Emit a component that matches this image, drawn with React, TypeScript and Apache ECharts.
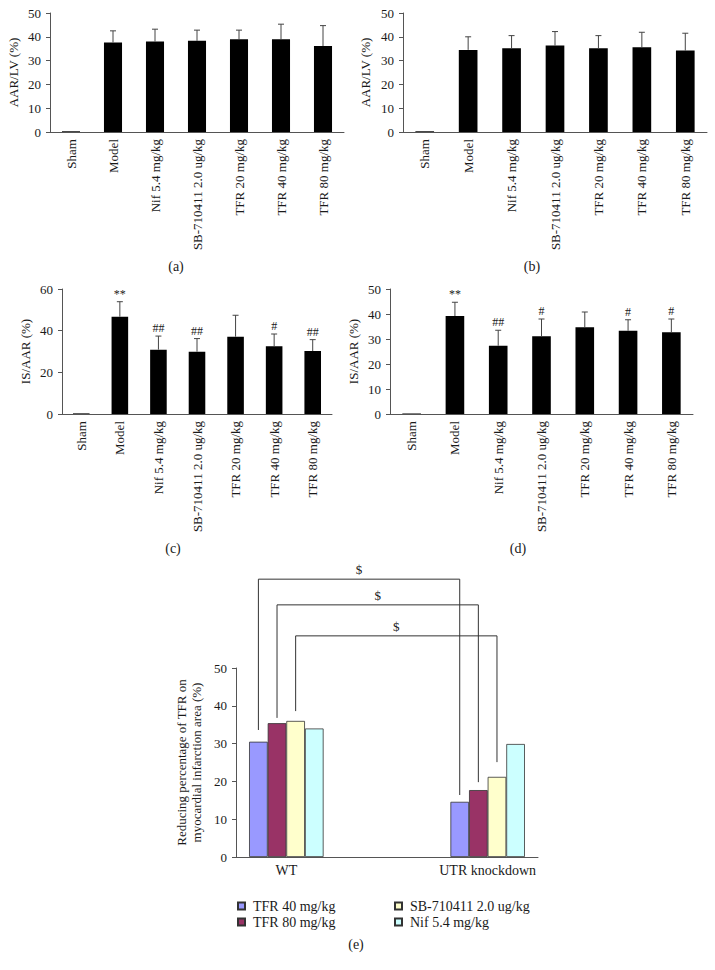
import React, { useEffect, useRef } from "react";
import * as echarts from "echarts";

const FONT = '"Liberation Serif", "DejaVu Serif", serif';
const TXT = "#1a1a1a";
const AX = "#555";

const groups = [
  "Sham",
  "Model",
  "Nif 5.4 mg/kg",
  "SB-710411 2.0 ug/kg",
  "TFR 20 mg/kg",
  "TFR 40 mg/kg",
  "TFR 80 mg/kg",
];

// Panel (a) AAR/LV
const aMean = [0.3, 37.6, 38.0, 38.3, 39.0, 39.0, 36.1];
const aErrTop = [0.3, 42.5, 43.2, 42.8, 42.8, 45.3, 44.7];
// Panel (b) AAR/LV
const bMean = [0.3, 34.5, 35.2, 36.3, 35.2, 35.6, 34.2];
const bErrTop = [0.3, 40.0, 40.5, 42.2, 40.5, 41.9, 41.5];
// Panel (c) IS/AAR
const cMean = [0.3, 46.7, 30.9, 29.9, 37.1, 32.5, 30.2];
const cErrTop = [0.3, 53.9, 37.4, 36.2, 47.4, 38.4, 35.7];
const cSig = ["", "**", "##", "##", "", "#", "##"];
// Panel (d) IS/AAR
const dMean = [0.2, 39.2, 27.3, 31.1, 34.7, 33.3, 32.7];
const dErrTop = [0.2, 44.7, 33.5, 38.0, 40.8, 37.7, 38.0];
const dSig = ["", "**", "##", "#", "", "#", "#"];

// Panel (e)
const eCats = ["WT", "", "UTR knockdown"];
const eSeriesNames = ["TFR 40 mg/kg", "TFR 80 mg/kg", "SB-710411 2.0 ug/kg", "Nif 5.4 mg/kg"];
const eTFR40 = [30.5, null, 14.6];
const eTFR80 = [35.4, null, 17.7];
const eSB = [36.0, null, 21.2];
const eNif = [34.0, null, 29.9];
const eColors = ["#9999FF", "#993366", "#FFFFCC", "#CCFFFF"];
// brackets: [leftCat, leftBar, rightCat, rightBar, topValue, leftBottom, rightBottom]
const eBrackets = [
  [0, 0, 2, 0, 73.5, 33.6, 16.4],
  [0, 1, 2, 1, 66.7, 36.8, 19.8],
  [0, 2, 2, 2, 58.5, 38.6, 25.1],
];
const eBracketLabel = ["$", "$", "$"];
const E_GROUP = 0.74;

const panelGrids = [
  { left: 50, top: 13, width: 294, height: 119 },
  { left: 403, top: 13, width: 304, height: 119 },
  { left: 62, top: 289, width: 270, height: 125 },
  { left: 390, top: 289, width: 303, height: 125 },
  { left: 236, top: 668, width: 302, height: 189 },
];

function errSeries(idx: number, means: number[], tops: number[], sig: string[] | null) {
  return {
    type: "custom",
    xAxisIndex: idx,
    yAxisIndex: idx,
    clip: false,
    z: 5,
    data: means.map((m, i) => [i, m, tops[i]]),
    renderItem: (params: any, api: any) => {
      const i = params.dataIndex;
      const m = api.value(1);
      const t = api.value(2);
      const children: any[] = [];
      const p0 = api.coord([i, m]);
      const p1 = api.coord([i, t]);
      if (t > m) {
        children.push({
          type: "line",
          shape: { x1: p0[0], y1: p0[1], x2: p1[0], y2: p1[1] },
          style: { stroke: "#444", lineWidth: 1 },
        });
        children.push({
          type: "line",
          shape: { x1: p1[0] - 3, y1: p1[1], x2: p1[0] + 3, y2: p1[1] },
          style: { stroke: "#444", lineWidth: 1 },
        });
      }
      if (sig && sig[i]) {
        children.push({
          type: "text",
          x: p1[0],
          y: p1[1] - 2,
          style: {
            text: sig[i],
            fontSize: 12,
            fontFamily: FONT,
            fill: TXT,
            textAlign: "center",
            textVerticalAlign: "bottom",
          },
        });
      }
      return { type: "group", children };
    },
  };
}

function catAxis(idx: number) {
  return {
    type: "category",
    gridIndex: idx,
    data: groups,
    axisLine: { lineStyle: { color: AX } },
    axisTick: { length: 4, lineStyle: { color: AX } },
    axisLabel: { rotate: 90, fontSize: 13, margin: 7, color: TXT, fontFamily: FONT },
  };
}

function valAxis(idx: number, max: number, interval: number, name: string, gap: number) {
  return {
    type: "value",
    gridIndex: idx,
    min: 0,
    max,
    interval,
    name,
    nameLocation: "middle",
    nameGap: gap,
    nameTextStyle: { fontSize: 13, fontFamily: FONT, color: TXT, lineHeight: 15 },
    splitLine: { show: false },
    axisLine: { show: true, lineStyle: { color: AX } },
    axisTick: { show: true, length: 4, lineStyle: { color: AX } },
    axisLabel: { fontSize: 13, margin: 9, color: TXT, fontFamily: FONT },
  };
}

function barSeries(idx: number, data: number[]) {
  return {
    type: "bar",
    xAxisIndex: idx,
    yAxisIndex: idx,
    data,
    barWidth: "43%",
    itemStyle: { color: "#000" },
  };
}

export default function App() {
  const ref = useRef<HTMLDivElement>(null);
  useEffect(() => {
    document.body.style.margin = "0";
    if (!ref.current) return;
    const chart = echarts.init(ref.current, null, { renderer: "svg" });

    const eData = [eTFR40, eTFR80, eSB, eNif];
    const eBars = eData.map((d, k) => ({
      type: "bar",
      name: eSeriesNames[k],
      xAxisIndex: 4,
      yAxisIndex: 4,
      data: d,
      barGap: "0%",
      barCategoryGap: `${Math.round((1 - E_GROUP) * 100)}%`,
      itemStyle: { color: eColors[k], borderColor: "#333", borderWidth: 0.8 },
    }));

    const bracketSeries = {
      type: "custom",
      xAxisIndex: 4,
      yAxisIndex: 4,
      clip: false,
      z: 6,
      data: eBrackets,
      renderItem: (params: any, api: any) => {
        const r = eBrackets[params.dataIndex];
        const catW = api.size([1, 0])[0];
        const bw = (catW * E_GROUP) / 4;
        const barX = (cat: number, b: number) =>
          api.coord([cat, 0])[0] - (catW * E_GROUP) / 2 + bw * (b + 0.5);
        const lx = barX(r[0], r[1]);
        const rx = barX(r[2], r[3]);
        const ty = api.coord([0, r[4]])[1];
        const lb = api.coord([0, r[5]])[1];
        const rb = api.coord([0, r[6]])[1];
        return {
          type: "group",
          children: [
            {
              type: "polyline",
              shape: { points: [[lx, lb], [lx, ty], [rx, ty], [rx, rb]] },
              style: { stroke: "#333", lineWidth: 1, fill: null },
            },
            {
              type: "text",
              x: (lx + rx) / 2,
              y: ty - 3,
              style: {
                text: eBracketLabel[params.dataIndex],
                fontSize: 13,
                fontFamily: FONT,
                fill: TXT,
                textAlign: "center",
                textVerticalAlign: "bottom",
              },
            },
          ],
        };
      },
    };

    const caption = (t: string, x: number, y: number) => ({
      type: "text",
      x,
      y,
      style: {
        text: t,
        fontSize: 14,
        fontFamily: FONT,
        fill: TXT,
        textAlign: "center",
        textVerticalAlign: "middle",
      },
    });

    const legendCommon = {
      orient: "vertical",
      itemWidth: 7,
      itemHeight: 7,
      itemGap: 2,
      icon: "rect",
      textStyle: { fontSize: 14, fontFamily: FONT, color: TXT, padding: [0, 0, 0, 3] },
    };

    chart.setOption({
      animation: false,
      textStyle: { fontFamily: FONT },
      grid: panelGrids.map((g) => ({ ...g, containLabel: false })),
      xAxis: [
        catAxis(0),
        catAxis(1),
        catAxis(2),
        catAxis(3),
        {
          type: "category",
          gridIndex: 4,
          data: eCats,
          axisLine: { lineStyle: { color: AX } },
          axisTick: { length: 4, lineStyle: { color: AX } },
          axisLabel: { fontSize: 14, margin: 6, color: TXT, fontFamily: FONT, interval: 0 },
        },
      ],
      yAxis: [
        valAxis(0, 50, 10, "AAR/LV (%)", 29),
        valAxis(1, 50, 10, "AAR/LV (%)", 30),
        valAxis(2, 60, 20, "IS/AAR (%)", 29),
        valAxis(3, 50, 10, "IS/AAR (%)", 29),
        valAxis(4, 50, 10, "Reducing percentage of TFR on\nmyocardial infarction area (%)", 32),
      ],
      legend: [
        { ...legendCommon, left: 232, top: 894, data: [eSeriesNames[0], eSeriesNames[1]] },
        { ...legendCommon, left: 389, top: 894, data: [eSeriesNames[2], eSeriesNames[3]] },
      ],
      graphic: [
        caption("(a)", 176, 266),
        caption("(b)", 532, 266),
        caption("(c)", 173, 548),
        caption("(d)", 518, 548),
        caption("(e)", 356, 944),
      ],
      series: [
        barSeries(0, aMean),
        errSeries(0, aMean, aErrTop, null),
        barSeries(1, bMean),
        errSeries(1, bMean, bErrTop, null),
        barSeries(2, cMean),
        errSeries(2, cMean, cErrTop, cSig),
        barSeries(3, dMean),
        errSeries(3, dMean, dErrTop, dSig),
        ...eBars,
        bracketSeries,
      ],
    });
    return () => chart.dispose();
  }, []);
  return <div ref={ref} style={{ width: 715, height: 970 }} />;
}
